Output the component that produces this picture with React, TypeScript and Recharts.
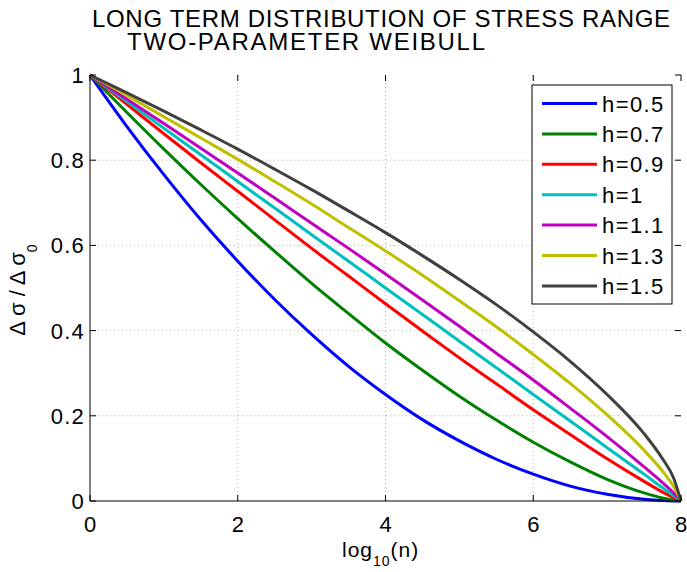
import { LineChart, Line, XAxis, YAxis, CartesianGrid } from "recharts";

/* data: relative stress range vs log10(n) */
const LOG_N = [0, 0.5, 1, 1.5, 2, 2.5, 3, 3.5, 4, 4.5, 5, 5.5, 6, 6.5, 7, 7.5, 7.75, 7.9, 8];

const H05 = [1, 0.879, 0.766, 0.66, 0.563, 0.473, 0.391, 0.316, 0.25, 0.191, 0.141, 0.098, 0.063, 0.035, 0.016, 0.004, 0.001, 0.0002, 0];
const H07 = [1, 0.912, 0.826, 0.743, 0.663, 0.586, 0.511, 0.44, 0.371, 0.307, 0.246, 0.19, 0.138, 0.092, 0.051, 0.019, 0.007, 0.002, 0];
const H09 = [1, 0.931, 0.862, 0.794, 0.727, 0.66, 0.593, 0.528, 0.463, 0.399, 0.336, 0.275, 0.214, 0.156, 0.099, 0.046, 0.021, 0.008, 0];
const H10 = [1, 0.938, 0.875, 0.813, 0.75, 0.688, 0.625, 0.563, 0.5, 0.438, 0.375, 0.313, 0.25, 0.188, 0.125, 0.063, 0.031, 0.013, 0];
const H11 = [1, 0.943, 0.886, 0.828, 0.77, 0.711, 0.652, 0.593, 0.533, 0.472, 0.41, 0.347, 0.284, 0.218, 0.151, 0.08, 0.043, 0.019, 0];
const H13 = [1, 0.952, 0.902, 0.852, 0.802, 0.75, 0.697, 0.642, 0.587, 0.53, 0.47, 0.409, 0.344, 0.276, 0.202, 0.119, 0.07, 0.034, 0];
const H15 = [1, 0.958, 0.915, 0.871, 0.826, 0.779, 0.731, 0.681, 0.63, 0.576, 0.52, 0.461, 0.397, 0.328, 0.25, 0.158, 0.099, 0.054, 0];

const SERIES_NAMES = ["h=0.5", "h=0.7", "h=0.9", "h=1", "h=1.1", "h=1.3", "h=1.5"];
const SERIES_VALUES = [H05, H07, H09, H10, H11, H13, H15];
const SERIES_COLORS = ["#0000ff", "#008000", "#ff0000", "#00bfbf", "#bf00bf", "#bfbf00", "#404040"];

const X_TICKS = [0, 2, 4, 6, 8];
const Y_TICKS = [0, 0.2, 0.4, 0.6, 0.8, 1];

const W = 687;
const H = 572;
const PLOT = { left: 90, right: 681, top: 75, bottom: 501 };
const FONT = "'Liberation Sans', Arial, Helvetica, sans-serif";

const rows = LOG_N.map((x, i) => {
  const r: Record<string, number> = { x };
  SERIES_NAMES.forEach((n, k) => {
    r[n] = SERIES_VALUES[k][i];
  });
  return r;
});

// MATLAB style: ticks point inwards, on both sides of the box
function XTick({ x, payload }: any) {
  return (
    <g>
      <line x1={x} x2={x} y1={PLOT.bottom} y2={PLOT.bottom - 6} stroke="#000" />
      <line x1={x} x2={x} y1={PLOT.top} y2={PLOT.top + 6} stroke="#000" />
      <text x={x} y={532} textAnchor="middle" fontSize={22} fontFamily={FONT} fill="#000">
        {payload.value}
      </text>
    </g>
  );
}

function YTick({ y, payload }: any) {
  return (
    <g>
      <line x1={PLOT.left} x2={PLOT.left + 6} y1={y} y2={y} stroke="#000" />
      <line x1={PLOT.right} x2={PLOT.right - 6} y1={y} y2={y} stroke="#000" />
      <text
        x={85}
        y={y + 8}
        textAnchor="end"
        fontSize={22}
        letterSpacing={1.2}
        fontFamily={FONT}
        fill="#000"
      >
        {payload.value}
      </text>
    </g>
  );
}

export default function App() {
  return (
    <div style={{ position: "absolute", left: 0, top: 0, width: W, height: H, background: "#fff" }}>
      <LineChart
        width={W}
        height={H}
        data={rows}
        margin={{ top: PLOT.top, right: W - PLOT.right, bottom: 0, left: 0 }}
      >
        <CartesianGrid
          stroke="#b4b4b4"
          strokeDasharray="1 3"
          horizontalValues={[0.2, 0.4, 0.6, 0.8]}
          verticalValues={[2, 4, 6]}
        />
        <XAxis
          dataKey="x"
          type="number"
          domain={[0, 8]}
          ticks={X_TICKS}
          height={H - PLOT.bottom}
          tickLine={false}
          tickSize={0}
          tick={<XTick />}
          axisLine={{ stroke: "#000" }}
          interval={0}
        />
        <XAxis
          xAxisId="top"
          dataKey="x"
          type="number"
          orientation="top"
          domain={[0, 8]}
          height={0}
          tick={false}
          tickLine={false}
          axisLine={{ stroke: "#000" }}
        />
        <YAxis
          type="number"
          domain={[0, 1]}
          ticks={Y_TICKS}
          width={PLOT.left}
          tickLine={false}
          tickSize={0}
          tick={<YTick />}
          axisLine={{ stroke: "#000" }}
          interval={0}
        />
        <YAxis
          yAxisId="right"
          orientation="right"
          type="number"
          domain={[0, 1]}
          width={0}
          tick={false}
          tickLine={false}
          axisLine={{ stroke: "#000" }}
        />
        {SERIES_NAMES.map((n, k) => (
          <Line
            key={n}
            type="monotone"
            dataKey={n}
            stroke={SERIES_COLORS[k]}
            strokeWidth={3}
            dot={false}
            isAnimationActive={false}
          />
        ))}
      </LineChart>

      {/* titles, axis labels and legend */}
      <svg
        width={W}
        height={H}
        style={{ position: "absolute", left: 0, top: 0, pointerEvents: "none" }}
        fontFamily={FONT}
      >
        <text x={92} y={27} fontSize={24} fill="#000" textLength={578} lengthAdjust="spacing">
          LONG TERM DISTRIBUTION OF STRESS RANGE
        </text>
        <text x={127} y={50} fontSize={24} fill="#000" textLength={358} lengthAdjust="spacing">
          TWO-PARAMETER WEIBULL
        </text>

        <text x={342} y={557} fontSize={21} letterSpacing={1} fill="#000">
          log
          <tspan fontSize={14} dy={9}>10</tspan>
          <tspan dy={-9}>(n)</tspan>
        </text>

        <text
          transform="rotate(-90)"
          x={-290}
          y={25}
          textAnchor="middle"
          fontSize={22}
          fill="#000"
        >
          Δ σ / Δ σ
          <tspan fontSize={14} dy={12}>0</tspan>
        </text>

        <rect x={532} y={85} width={140} height={219} fill="#fff" stroke="#000" />
        {SERIES_NAMES.map((n, k) => {
          const cy = 103.5 + k * 30.4;
          return (
            <g key={n}>
              <line x1={542} x2={597} y1={cy} y2={cy} stroke={SERIES_COLORS[k]} strokeWidth={3} />
              <text x={602} y={cy + 8} fontSize={22} letterSpacing={1.4} fill="#000">
                {n}
              </text>
            </g>
          );
        })}
      </svg>
    </div>
  );
}
